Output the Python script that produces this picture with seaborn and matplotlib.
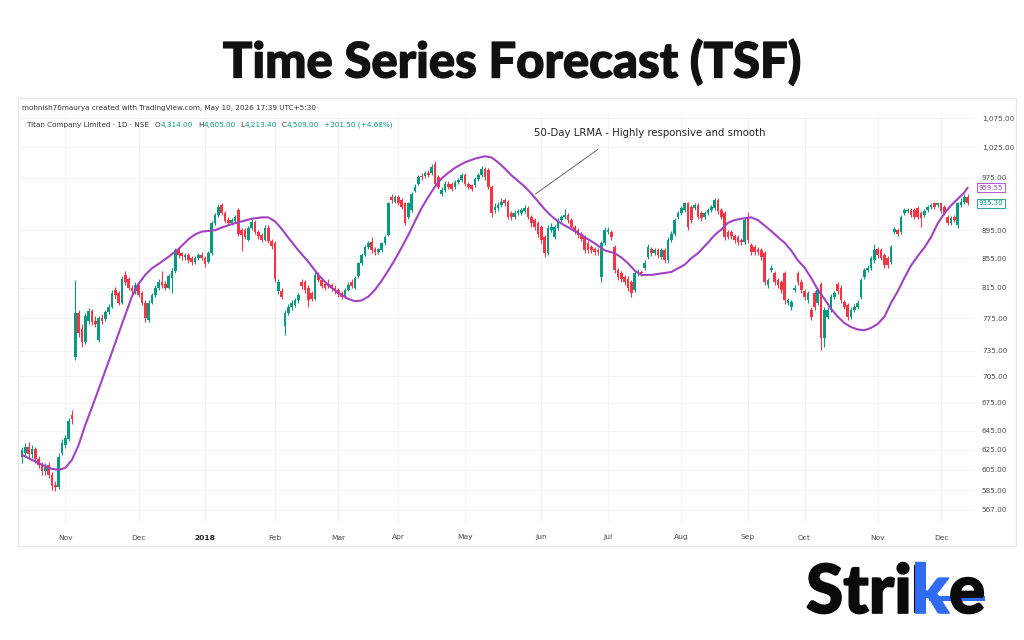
import numpy as np
import pandas as pd
import matplotlib
matplotlib.use("Agg")
import matplotlib.pyplot as plt
import matplotlib.patheffects as pe
import seaborn as sns
from matplotlib.ticker import FuncFormatter, NullLocator, FixedLocator
from matplotlib.patches import Rectangle
from matplotlib import font_manager

# ---------------- data ----------------
opens = [618,622,628,621,626,616,610,604,610,600,590,588,622,630,636,662,727,782,762,745,
         772,784,772,748,776,774,783,790,812,808,795,832,826,815,810,818,808,795,773,795,
         805,815,822,820,815,828,838,866,862,857,860,855,850,855,860,855,850,862,905,918,
         932,920,910,905,908,925,895,895,881,898,907,893,888,881,898,880,876,810,810,765,
         782,790,792,798,822,822,815,808,800,832,825,820,820,818,815,812,808,803,812,822,
         815,830,848,860,871,878,868,864,866,876,888,945,938,945,940,935,915,925,955,966,
         978,978,983,982,997,976,950,956,966,966,961,968,971,979,966,963,963,973,979,990,
         987,961,925,928,933,940,938,920,915,920,921,923,928,915,910,905,900,885,862,895,
         885,898,910,915,918,910,900,895,890,885,876,871,868,866,829,876,893,893,871,839,
         834,829,827,822,812,834,836,842,857,868,862,866,857,866,852,881,890,915,920,925,
         935,930,928,932,920,915,920,925,928,940,925,920,892,892,887,885,881,878,915,873,
         871,868,866,862,819,839,834,825,822,834,795,790,812,834,823,810,798,786,808,795,
         820,750,777,786,803,820,815,796,792,777,786,790,803,829,839,842,852,868,866,859,
         855,850,892,895,892,920,923,925,925,928,920,918,925,930,935,932,935,930,915,905,
         915,902,932,937,945]
highs = [628,632,633,630,628,619,613,612,613,603,594,622,636,640,658,667,825,786,768,782,
         788,787,778,778,780,786,793,812,816,810,830,838,829,818,822,820,811,798,798,808,
         818,826,838,824,833,842,870,869,864,863,862,858,858,862,864,858,865,908,920,934,
         936,923,914,913,918,928,898,898,901,912,910,896,891,903,902,883,879,826,814,785,
         793,798,801,808,826,825,818,811,836,836,828,823,826,821,818,815,811,815,822,826,
         830,850,863,874,880,885,871,870,878,888,938,950,948,948,943,937,938,952,965,980,
         982,986,987,998,1002,979,960,970,970,969,971,975,983,982,969,966,976,983,994,993,
         991,964,935,938,944,944,941,923,925,927,928,932,931,918,913,908,903,888,902,905,
         903,913,918,927,921,913,903,898,893,888,879,874,871,869,880,900,900,896,874,842,
         837,832,830,825,838,840,839,852,875,871,870,869,869,869,885,894,913,923,931,938,
         938,933,935,935,923,923,928,933,944,943,928,923,895,895,890,888,884,914,922,876,
         874,871,869,865,828,846,837,828,825,837,801,799,818,837,826,813,811,789,811,815,
         823,790,790,806,811,823,818,799,795,789,793,798,828,842,845,858,875,871,869,862,
         858,874,900,898,918,928,928,928,928,931,923,926,933,935,938,938,938,933,918,916,
         918,938,944,950,950]
lows = [612,618,617,617,612,607,600,600,597,585,584,586,620,627,634,652,724,752,740,743,
        768,766,764,745,768,772,780,788,800,792,793,818,812,806,807,802,792,770,770,793,
        803,812,815,812,813,808,835,856,853,852,849,846,847,852,852,843,848,860,902,915,
        917,905,902,902,905,886,865,882,879,896,890,883,878,879,877,868,822,806,800,754,
        779,786,789,795,813,808,790,797,798,822,814,812,815,810,807,803,800,801,810,814,
        813,828,845,858,868,862,860,861,864,873,886,936,935,932,927,902,912,922,952,963,
        972,975,976,979,962,957,946,953,958,955,958,965,968,962,957,954,960,970,976,972,
        957,915,920,924,930,931,911,910,912,917,918,920,911,900,895,885,876,857,860,892,
        882,895,907,912,906,896,889,884,879,862,862,862,860,860,822,873,890,881,835,825,
        823,818,811,803,809,831,830,839,854,858,859,856,854,848,849,878,887,912,917,922,
        896,906,925,911,909,912,917,922,925,919,911,881,882,883,877,874,874,875,877,860,
        860,860,853,818,815,836,818,815,808,794,792,786,809,818,808,799,795,773,786,792,
        736,740,774,783,800,807,795,787,773,774,783,787,800,826,836,839,849,856,852,842,
        842,847,889,887,889,917,920,915,912,912,900,915,922,927,927,929,920,917,902,902,
        907,899,929,934,932]
closes = [625,628,621,626,616,610,604,608,600,589,588,618,632,637,655,657,782,757,745,778,
          784,770,768,775,772,783,790,808,805,795,826,822,815,811,818,805,795,775,795,805,
          815,822,818,815,830,838,866,860,858,860,852,850,855,860,855,847,862,905,918,930,
          920,908,905,910,915,890,888,885,898,907,893,886,881,898,880,872,826,823,802,782,
          790,795,798,805,817,812,798,800,832,825,817,815,817,814,810,806,803,812,818,817,
          828,848,860,871,876,866,864,868,876,885,935,940,945,935,930,905,935,950,961,976,
          976,982,980,993,966,961,956,966,961,958,968,971,979,966,961,958,973,979,990,976,
          961,920,930,933,938,935,915,915,920,923,925,928,915,905,900,890,881,862,898,900,
          900,910,915,918,910,900,893,888,883,866,866,866,864,864,876,895,895,885,839,829,
          827,822,815,808,834,836,834,848,871,862,866,860,866,852,881,890,910,920,928,935,
          900,910,932,915,913,920,925,930,940,923,915,885,885,887,881,878,878,910,881,864,
          864,864,857,822,825,842,822,819,812,798,798,796,815,822,812,803,808,777,790,812,
          750,786,786,803,808,810,798,790,777,786,790,795,825,839,842,855,866,859,855,845,
          845,871,897,890,915,925,925,918,915,915,913,923,930,932,930,935,923,920,905,913,
          910,935,937,945,935.3]

month_labels = ["Nov", "Dec", "2018", "Feb", "Mar", "Apr", "May", "Jun", "Jul",
                "Aug", "Sep", "Oct", "Nov", "Dec"]
month_bars = [13, 35, 55, 76, 95, 113, 133, 156, 176, 198, 218, 235, 257, 276]
price_ticks = [567, 585, 605, 625, 645, 675, 705, 735, 775, 815, 855, 895, 975, 1025, 1075]

lrma_bars = [0, 3, 6, 9, 11, 13, 15, 17, 19, 21, 23, 25, 27, 29, 31, 33, 35, 37, 39, 41,
             44, 47, 50, 52, 54, 56, 58, 60, 63, 66, 69, 72, 74, 76, 78, 80, 83, 86, 89,
             92, 95, 98, 100, 102, 104, 106, 108, 110, 112, 114, 116, 118, 120, 122, 124,
             126, 128, 130, 133, 136, 139, 141, 143, 145, 147, 149, 151, 153, 155, 157,
             159, 161, 163, 166, 170, 172, 175, 178, 180, 182, 184, 186, 189, 192, 195,
             197, 199, 201, 203, 206, 208, 210, 212, 214, 216, 219, 221, 223, 225, 227,
             229, 231, 233, 235, 237, 239, 241, 243, 245, 247, 249, 251, 253, 255, 257,
             259, 261, 263, 265, 267, 269, 271, 273, 275, 277, 279, 281, 283, 284]
lrma_values = [620, 615, 610, 606, 605, 607, 615, 630, 651, 670, 690, 711, 733, 756, 779,
               803, 820, 832, 841, 847, 857, 868, 882, 889, 893, 894, 895, 899, 904, 908,
               912, 914, 914, 908, 897, 884, 866, 850, 832, 818, 808, 800, 797, 798, 803,
               812, 824, 838, 853, 870, 888, 908, 928, 945, 961, 974, 983, 991, 1000, 1006,
               1010, 1008, 1000, 990, 979, 970, 961, 950, 938, 926, 916, 908, 902, 894, 882,
               876, 866, 862, 856, 848, 838, 832, 832, 834, 836, 841, 846, 855, 862, 877,
               888, 896, 906, 910, 912, 914, 910, 902, 894, 885, 877, 866, 852, 842, 828,
               812, 800, 787, 777, 769, 764, 761, 760, 763, 768, 777, 795, 810, 828, 845,
               858, 870, 885, 905, 920, 932, 942, 952, 959.55]

title = "Time Series Forecast (TSF)"
watermark = "mohnish76maurya created with TradingView.com, May 10, 2026 17:39 UTC+5:30"
symbol = "Titan Company Limited · 1D · NSE"
ohlc_legend = [("O", "4,314.00"), ("H", "4,605.00"), ("L", "4,213.40"), ("C", "4,509.00")]
change_text = "+201.50 (+4.68%)"
note_text = "50-Day LRMA - Highly responsive and smooth"
logo_parts = ["Stri", "k", "e"]

# ---------------- style ----------------
UP = "#089981"
DOWN = "#f23645"
PURPLE = "#a142c2"
BLUE = "#2f6cf3"

sns.set_theme(style="white")
plt.rcParams["font.family"] = ["DejaVu Sans"]

def pick_font(cands):
    names = {f.name for f in font_manager.fontManager.ttflist}
    for c in cands:
        if c in names:
            return c
    return "DejaVu Sans"

HEAVY = pick_font(["Lato", "Inter", "Open Sans", "DejaVu Sans"])

W, H = 1024, 640
fig = plt.figure(figsize=(W / 100, H / 100), dpi=100)
fig.patch.set_facecolor("white")

# frame of the chart panel
fig.add_artist(Rectangle((18 / W, 1 - 546 / H), (1016 - 18) / W, (546 - 98) / H,
                         transform=fig.transFigure, fill=False, ec="#e4e6ea", lw=0.8))

ax = fig.add_axes([20 / W, 1 - 522 / H, 955 / W, 409 / H])
ax.set_facecolor("white")
for s in ax.spines.values():
    s.set_visible(False)

o = np.array(opens, float)
h = np.array(highs, float)
l = np.array(lows, float)
c = np.array(closes, float)
idx = np.arange(len(c))
cols = np.where(c >= o, UP, DOWN)

ax.set_yscale("log")
ax.vlines(idx, l, h, colors=cols, lw=0.8, zorder=2)
body_lo = np.minimum(o, c)
body_hi = np.maximum(o, c)
body_hi = np.maximum(body_hi, body_lo * 1.002)
ax.bar(idx, body_hi - body_lo, bottom=body_lo, width=0.8, color=cols,
       edgecolor="none", zorder=3)

df = pd.DataFrame({"bar": lrma_bars, "value": lrma_values})
sns.lineplot(data=df, x="bar", y="value", ax=ax, color=PURPLE, lw=1.5, zorder=4)

ax.set_xlim(-0.6, 286.2)
ax.set_ylim(555.6, 1084)
ax.set_xlabel("")
ax.set_ylabel("")

ax.yaxis.set_major_locator(FixedLocator(price_ticks))
ax.yaxis.set_minor_locator(NullLocator())
ax.yaxis.set_major_formatter(FuncFormatter(lambda v, p: f"{v:,.2f}"))
ax.yaxis.tick_right()
ax.tick_params(axis="y", length=0, labelsize=5.2, labelcolor="#4a4a4a", pad=5)

ax.set_xticks(month_bars)
ax.set_xticklabels(month_labels)
ax.tick_params(axis="x", length=0, labelsize=5.4, labelcolor="#4a4a4a", pad=9)
for t in ax.get_xticklabels():
    if t.get_text() == "2018":
        t.set_fontweight("bold")
        t.set_color("#222222")

ax.grid(True, color="#f0f2f6", lw=0.7, zorder=0)

# last value boxes
ytr = ax.get_yaxis_transform()
ax.text(1.004, lrma_values[-1], f"{lrma_values[-1]:.2f}", transform=ytr, fontsize=5.0,
        color=PURPLE, va="center", ha="left",
        bbox=dict(boxstyle="square,pad=0.25", fc="white", ec=PURPLE, lw=0.6))
ax.text(1.004, closes[-1], f"{closes[-1]:.2f}", transform=ytr, fontsize=5.0,
        color=UP, va="center", ha="left",
        bbox=dict(boxstyle="square,pad=0.25", fc="white", ec=UP, lw=0.6))

# annotation
anchor_bar = 153.5
anchor_val = float(np.interp(anchor_bar, lrma_bars, lrma_values))
ax.annotate("", xy=(anchor_bar, anchor_val), xytext=(173.6, 1024),
            arrowprops=dict(arrowstyle="-", color="#666666", lw=0.7), zorder=5)
ax.text(188.6, 1049, note_text, ha="center", va="center", fontsize=7.3, color="#222222")

# header texts
fig.text(22 / W, 1 - 108 / H, watermark, fontsize=5.2, color="#333333", va="center")
sym = fig.text(27 / W, 1 - 125 / H, symbol, fontsize=5.2, color="#333333", va="center")
fig.canvas.draw()
renderer = fig.canvas.get_renderer()

def place_after(prev_artist, s, color, dx=3):
    bb = prev_artist.get_window_extent(renderer)
    t = fig.text((bb.x1 + dx) / W, 1 - 125 / H, s, fontsize=5.2, color=color, va="center")
    fig.canvas.draw()
    return t

last = sym
for i, (letter, val) in enumerate(ohlc_legend):
    last = place_after(last, letter, "#333333", dx=6 if i == 0 else 5)
    last = place_after(last, val, UP, dx=0)
last = place_after(last, change_text, UP, dx=5)

# title (fit to reference width)
tt = fig.text(0.5, 1 - 62 / H, title, ha="center", va="center", fontsize=30,
              fontweight="black", family=[HEAVY, "DejaVu Sans"], color="#111111",
              path_effects=[pe.withStroke(linewidth=0.9, foreground="#111111")])
fig.canvas.draw()
bb = tt.get_window_extent(renderer)
tt.set_fontsize(30 * 578 / bb.width)

# logo "Strike"
fs = 40
stroke = [pe.withStroke(linewidth=1.2, foreground="#0a0a0a")]
s1 = fig.text(806 / W, 1 - 613 / H, logo_parts[0], fontsize=fs, fontweight="black",
              family=[HEAVY, "DejaVu Sans"], color="#0a0a0a", va="baseline",
              path_effects=stroke)
s2 = fig.text(0, 1 - 613 / H, logo_parts[1], fontsize=fs, fontweight="black",
              family=[HEAVY, "DejaVu Sans"], color=BLUE, va="baseline",
              path_effects=[pe.withStroke(linewidth=1.2, foreground=BLUE)])
s3 = fig.text(0, 1 - 613 / H, logo_parts[2], fontsize=fs, fontweight="black",
              family=[HEAVY, "DejaVu Sans"], color="#0a0a0a", va="baseline",
              path_effects=stroke)

def layout_logo():
    fig.canvas.draw()
    b1 = s1.get_window_extent(renderer)
    s2.set_x(b1.x1 / W)
    fig.canvas.draw()
    b2 = s2.get_window_extent(renderer)
    s3.set_x(b2.x1 / W)
    fig.canvas.draw()
    return b1, b2, s3.get_window_extent(renderer)

b1, b2, b3 = layout_logo()
scale = 179 / (b3.x1 - b1.x0)
for s in (s1, s2, s3):
    s.set_fontsize(fs * scale)
b1, b2, b3 = layout_logo()

kw = b2.width
base_y = 640 - 613
fig.add_artist(Rectangle(((b2.x0 + 0.06 * kw) / W, base_y / H), 0.31 * kw / W, 48 / H,
                         transform=fig.transFigure, fc="#0a0a0a", ec="none"))
fig.add_artist(Rectangle(((b2.x0 + 0.45 * kw) / W, (base_y + 12) / H),
                         (b3.x1 - (b2.x0 + 0.45 * kw)) / W, 5 / H,
                         transform=fig.transFigure, fc=BLUE, ec="none"))

fig.savefig("out.png", dpi=100, facecolor="white")
